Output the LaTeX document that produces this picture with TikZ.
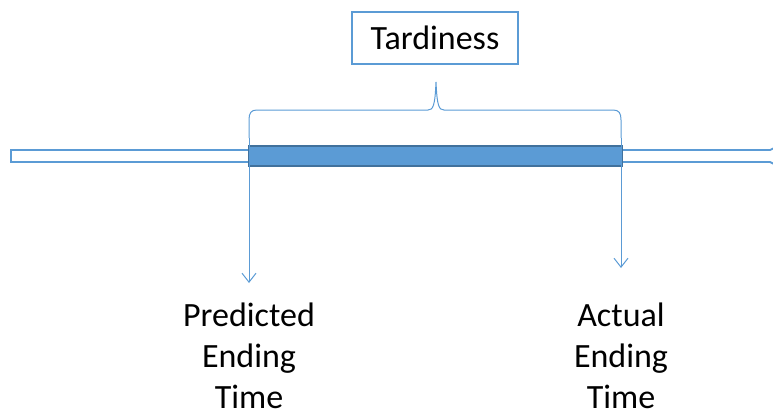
\documentclass[tikz,border=0pt]{standalone}
\usepackage{fontspec}
\setmainfont{Carlito}
\usetikzlibrary{arrows.meta}
\definecolor{lblue}{RGB}{91,155,213}
\definecolor{dblue}{RGB}{65,113,156}
\tikzset{
  x=1pt, y=1pt,
  thinline/.style={draw=lblue, line width=1pt},
  tipline/.style={thinline, -{Straight Barb[length=9pt,width=14pt]}},
  lbl/.style={font=\fontsize{34}{41}\selectfont, align=center, inner sep=0pt, text=black},
}
\begin{document}
\begin{tikzpicture}
\useasboundingbox (0,0) rectangle (773,416);
\clip (0,0) rectangle (773,416);
% hollow timeline arrow (tip cut off at right edge)
\draw[draw=lblue, line width=1.8pt, fill=white]
  (11,266) -- (770,266) -- (782,272) -- (798,260) -- (782,248) -- (770,254) -- (11,254) -- cycle;
% tardiness bar
\node[draw=dblue, line width=1.8pt, fill=lblue, minimum width=373pt, minimum height=20pt, inner sep=0pt] (bar) at (435.5,260) {};
% brace
\coordinate (bl) at (249,278);
\coordinate (br) at (621,278);
\draw[thinline] (bl) -- (249,296) .. controls (249,303) and (251,306) .. (257,306)
  -- (428,306) .. controls (433,306) and (435,310) .. (436,334)
  .. controls (437,310) and (439,306) .. (444,306)
  -- (613,306) .. controls (619,306) and (621,303) .. (621,296) -- (br);
% tardiness box
\node[draw=lblue, line width=1.8pt, minimum width=166pt, minimum height=52pt, inner sep=0pt,
  font=\fontsize{34}{41}\selectfont] (tard) at (435,378) {Tardiness};
% vertical arrows
\coordinate (pa) at (249,133);
\coordinate (aa) at (621,148);
\draw[tipline] (bl) -- (pa);
\draw[tipline] (br) -- (aa);
% labels
\node[lbl, anchor=north] (pred) at (249,113) {Predicted\\Ending\\Time};
\node[lbl, anchor=north] (act) at (621,113) {Actual\\Ending\\Time};
\end{tikzpicture}
\end{document}
